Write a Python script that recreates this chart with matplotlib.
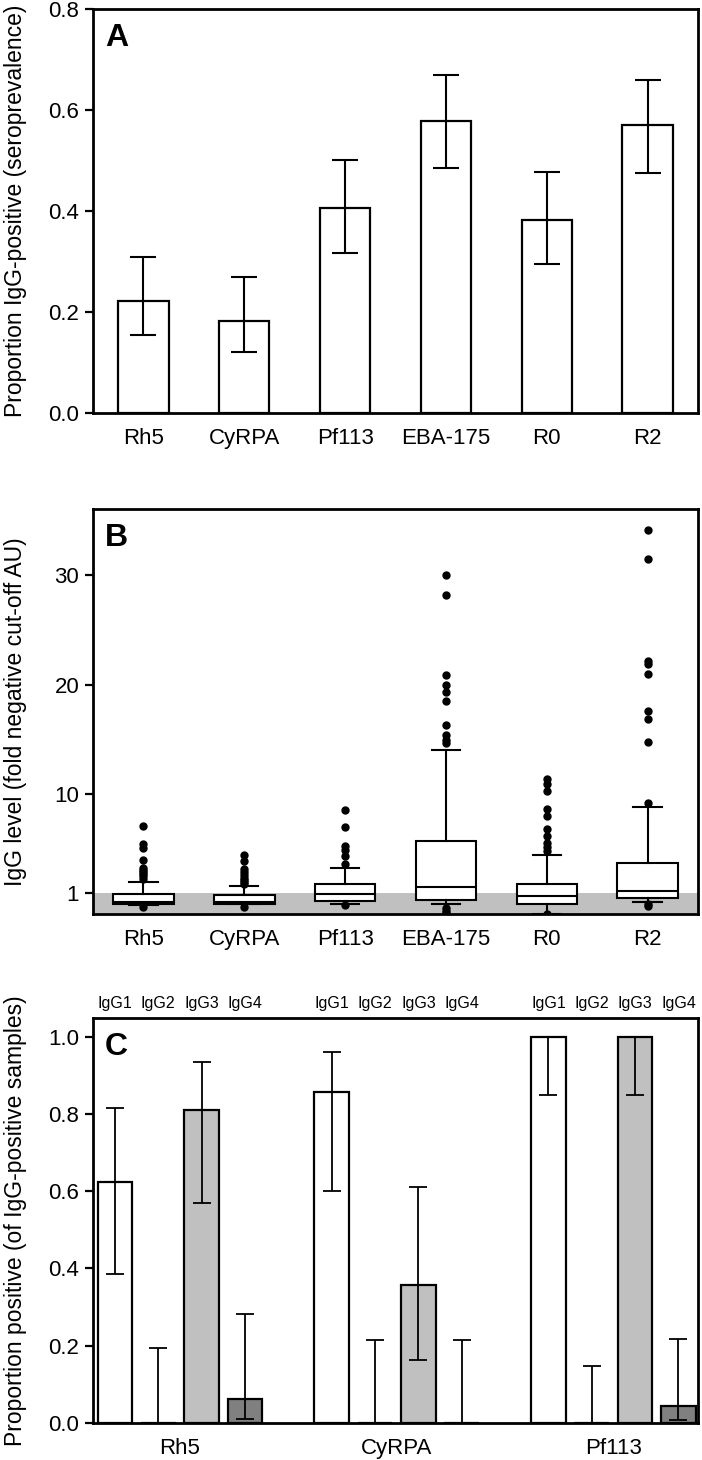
import matplotlib.pyplot as plt
import numpy as np

plt.rcParams['font.family'] = ['Liberation Sans', 'DejaVu Sans']

# panel A: seroprevalence with 95% CI
antigens = ['Rh5', 'CyRPA', 'Pf113', 'EBA-175', 'R0', 'R2']
sero = [0.221, 0.183, 0.406, 0.579, 0.383, 0.570]
sero_lo = [0.154, 0.120, 0.317, 0.485, 0.296, 0.475]
sero_hi = [0.309, 0.269, 0.502, 0.669, 0.478, 0.660]

# panel B: box statistics (fold of negative cut-off)
box_q1 = [-0.03, 0.02, 0.27, 0.36, -0.04, 0.57]
box_med = [0.18, 0.15, 0.88, 1.58, 0.73, 1.18]
box_q3 = [0.88, 0.82, 1.80, 5.70, 1.80, 3.77]
whis_lo = [-0.10, -0.05, 0.02, -0.04, -0.90, 0.20]
whis_hi = [2.00, 1.64, 3.30, 14.05, 4.48, 8.87]
fliers_rh5 = [-0.30, 2.3, 2.5, 2.7, 2.9, 3.1, 3.3, 4.0, 5.1, 5.5, 7.1]
fliers_cyrpa = [-0.25, 1.8, 2.0, 2.2, 2.4, 2.6, 2.9, 3.2, 3.9, 4.5]
fliers_pf113 = [-0.13, 3.6, 4.4, 4.9, 5.3, 7.04, 8.57]
fliers_eba = [-0.34, -0.65, -0.80, 14.7, 15.0, 15.4, 16.3, 18.5, 19.3, 20.0, 20.85, 28.2, 30.0]
fliers_r0 = [-0.90, 4.84, 5.15, 5.6, 6.2, 6.8, 8.0, 8.66, 10.3, 10.9, 11.4]
fliers_r2 = [0.02, -0.19, 9.2, 14.8, 16.9, 17.6, 21.0, 21.9, 22.2, 31.5, 34.1]
cutoff = 1.0

# panel C: IgG subclasses among IgG-positive samples
groups = ['Rh5', 'CyRPA', 'Pf113']
subclasses = ['IgG1', 'IgG2', 'IgG3', 'IgG4']
igg1 = [0.625, 0.857, 1.0]
igg1_lo = [0.385, 0.600, 0.850]
igg1_hi = [0.815, 0.960, 1.0]
igg2 = [0.0, 0.0, 0.0]
igg2_lo = [0.0, 0.0, 0.0]
igg2_hi = [0.193, 0.215, 0.148]
igg3 = [0.810, 0.357, 1.0]
igg3_lo = [0.570, 0.163, 0.850]
igg3_hi = [0.935, 0.612, 1.0]
igg4 = [0.063, 0.0, 0.045]
igg4_lo = [0.010, 0.0, 0.008]
igg4_hi = [0.282, 0.215, 0.218]

fig = plt.figure(figsize=(7.02, 14.6), dpi=100)
axA = fig.add_axes([0.1325, 0.7171, 0.8618, 0.2767])
axB = fig.add_axes([0.1325, 0.3740, 0.8618, 0.2774])
axC = fig.add_axes([0.1325, 0.0253, 0.8618, 0.2774])

fs = 16
fs_lab = 16.5


def style(ax):
    for s in ax.spines.values():
        s.set_linewidth(2.0)
    ax.tick_params(axis='y', direction='out', length=6, width=1.6, labelsize=fs, pad=4)
    ax.tick_params(axis='x', length=0, labelsize=fs, pad=11)


# ---- A
x = np.arange(len(antigens))
sero = np.array(sero)
axA.bar(x, sero, width=0.5, color='white', edgecolor='black', linewidth=1.6, zorder=2)
axA.errorbar(x, sero, yerr=[sero - np.array(sero_lo), np.array(sero_hi) - sero],
             fmt='none', ecolor='black', elinewidth=1.5, capsize=9.7, capthick=1.5, zorder=3)
axA.set_xlim(-0.5, 5.5)
axA.set_ylim(0, 0.8)
axA.set_yticks([0, 0.2, 0.4, 0.6, 0.8])
axA.set_yticklabels(['0.0', '0.2', '0.4', '0.6', '0.8'])
axA.set_xticks(x)
axA.set_xticklabels(antigens)
axA.set_ylabel('Proportion IgG-positive (seroprevalence)', fontsize=fs_lab)
axA.yaxis.set_label_coords(-0.109, 0.5)
style(axA)
axA.text(0.02, 0.965, 'A', transform=axA.transAxes, fontsize=23, fontweight='bold', va='top', ha='left')

# ---- B
all_fliers = [fliers_rh5, fliers_cyrpa, fliers_pf113, fliers_eba, fliers_r0, fliers_r2]
stats = []
for i in range(len(antigens)):
    stats.append(dict(med=box_med[i], q1=box_q1[i], q3=box_q3[i],
                      whislo=whis_lo[i], whishi=whis_hi[i], fliers=all_fliers[i]))
ylo_B = -0.92
axB.axhspan(ylo_B, cutoff, color='#c0c0c0', zorder=0, linewidth=0)
axB.bxp(stats, positions=x, widths=0.6, patch_artist=True, capwidths=0.28,
        boxprops=dict(facecolor='white', edgecolor='black', linewidth=1.5),
        medianprops=dict(color='black', linewidth=1.5),
        whiskerprops=dict(color='black', linewidth=1.5),
        capprops=dict(color='black', linewidth=1.5),
        flierprops=dict(marker='o', markerfacecolor='black', markeredgecolor='black', markersize=5))
axB.set_xlim(-0.5, 5.5)
axB.set_ylim(ylo_B, 36.05)
axB.set_yticks([1, 10, 20, 30])
axB.set_xticks(x)
axB.set_xticklabels(antigens)
axB.set_ylabel('IgG level (fold negative cut-off AU)', fontsize=fs_lab)
axB.yaxis.set_label_coords(-0.109, 0.5)
style(axB)
axB.text(0.02, 0.965, 'B', transform=axB.transAxes, fontsize=23, fontweight='bold', va='top', ha='left')

# ---- C
vals = [igg1, igg2, igg3, igg4]
los = [igg1_lo, igg2_lo, igg3_lo, igg4_lo]
his = [igg1_hi, igg2_hi, igg3_hi, igg4_hi]
colors = ['white', 'white', '#c0c0c0', '#808080']
gx = np.arange(len(groups)) * 5
top_pos = []
top_lab = []
for k in range(4):
    pos = gx + k
    v = np.array(vals[k])
    axC.bar(pos, v, width=0.8, color=colors[k], edgecolor='black', linewidth=1.6, zorder=2)
    axC.errorbar(pos, v, yerr=[v - np.array(los[k]), np.array(his[k]) - v],
                 fmt='none', ecolor='black', elinewidth=1.3, capsize=6.5, capthick=1.3, zorder=3)
    top_pos += list(pos)
    top_lab += [subclasses[k]] * len(groups)
axC.set_xlim(-0.506, 13.45)
axC.set_ylim(0, 1.048)
axC.set_yticks([0, 0.2, 0.4, 0.6, 0.8, 1.0])
axC.set_yticklabels(['0.0', '0.2', '0.4', '0.6', '0.8', '1.0'])
axC.set_xticks(gx + 1.5)
axC.set_xticklabels(groups)
axC.set_ylabel('Proportion positive (of IgG-positive samples)', fontsize=fs_lab)
axC.yaxis.set_label_coords(-0.109, 0.5)
style(axC)
sec = axC.secondary_xaxis('top')
sec.set_xticks(top_pos)
sec.set_xticklabels(top_lab)
sec.tick_params(length=0, labelsize=11.5, pad=5)
axC.text(0.02, 0.965, 'C', transform=axC.transAxes, fontsize=23, fontweight='bold', va='top', ha='left')

fig.savefig('out.png', dpi=100)
